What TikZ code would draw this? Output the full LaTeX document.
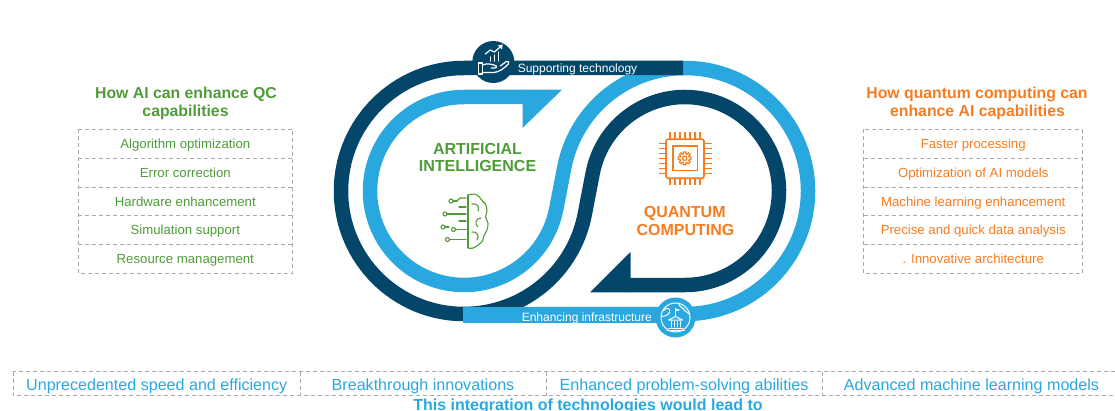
\documentclass[tikz,border=0pt]{standalone}
\usepackage{fontspec}
\setmainfont{Liberation Sans}
\definecolor{navy}{RGB}{3,70,106}
\definecolor{lblue}{RGB}{41,168,224}
\definecolor{aigreen}{RGB}{78,155,55}
\definecolor{qcorange}{RGB}{245,124,32}
\definecolor{dgray}{RGB}{168,168,168}
\begin{document}
\begin{tikzpicture}[x=1pt,y=1pt,
  band/.style={line width=14.5pt},
  dashline/.style={draw=dgray, line width=0.9pt, dash pattern=on 4pt off 3pt},
  leftitem/.style={minimum width=214pt, minimum height=28.8pt, inner sep=0pt, text height=9.45pt, text depth=0pt, text=aigreen, font=\fontsize{13.2}{15}\selectfont},
  rightitem/.style={leftitem, minimum width=218.3pt, text=qcorange},
  ttl/.style={anchor=base, font=\fontsize{15.8}{18}\selectfont\bfseries},
  bigtext/.style={anchor=base, font=\fontsize{16}{18}\selectfont\bfseries},
  bandlabel/.style={anchor=base, text=white, inner sep=0pt, font=\fontsize{12}{14}\selectfont},
  outcome/.style={minimum height=23.5pt, inner sep=0pt, text height=13.5pt, text depth=0pt, text=lblue, font=\fontsize{16.1}{18}\selectfont},
  iconline/.style={line width=1.2pt, line cap=round, line join=round},
]
\useasboundingbox (0,0) rectangle (1115,410);
\begin{scope}[shift={(0,410)}, yscale=-1]
% ---------- light blue path ----------
\draw[band, lblue] (463,314) -- (685,314) arc[start angle=90, end angle=-169.08, radius=123pt] -- (556.30,208.80) arc[start angle=10.92, end angle=270, radius=94pt] -- (523,97);
\fill[lblue] (522.5,89.75) -- (562,89.75) -- (522.5,128) -- cycle;
% ---------- dark navy path ----------
\draw[band, navy] (683,68) -- (464,68) arc[start angle=-90, end angle=-349.08, radius=123pt] -- (592.70,173.20) arc[start angle=190.92, end angle=450, radius=94pt] -- (630,285);
\fill[navy] (630.5,292.25) -- (590,292.25) -- (630.5,252) -- cycle;
% light bottom band on top
\draw[lblue, line width=15.5pt] (463,315) -- (685,315);

% band labels
\node[bandlabel] (suplab) at (577.5,72.8) {Supporting technology};
\node[bandlabel] (enhlab) at (586.8,321.5) {Enhancing infrastructure};

% icon circles
\node[circle, fill=navy, minimum size=42pt, inner sep=0pt] (topicon) at (493.3,62) {};
\node[circle, fill=lblue, minimum size=40pt, inner sep=0pt] (boticon) at (675.5,317.5) {};

% hand + chart icon
\begin{scope}[shift={(493.3,62)}, white, iconline]
  \draw (-3,-1) -- (-3,-5);
  \draw (1,-1) -- (1,-7);
  \draw (5,-1) -- (5,-10);
  \draw (-8,-8) -- (-3,-12) -- (1,-10) -- (8,-16);
  \fill (9.5,-17.5) -- (4.5,-16.5) -- (8.5,-12.5) -- cycle;
  \draw (-15,1) rectangle (-11,12);
  \draw (-11,3) .. controls (-6,1) and (-1,2) .. (3,4) .. controls (4.5,5) and (3,6.5) .. (-2,6);
  \draw (-11,10.5) -- (0,10.5) .. controls (6,10.5) and (11,6) .. (15,2) .. controls (16.5,0.5) and (15,-1.5) .. (13,-0.5) -- (7,4);
\end{scope}

% globe + building icon
\begin{scope}[shift={(675.5,317.5)}, white, line width=1pt, line cap=round, line join=round]
  \draw (0,0) circle (14.5);
  \draw (-12,-7) .. controls (-8,-11) and (-5,-9) .. (-6,-5) .. controls (-8,-2) and (-11,-1) .. (-13.5,-1);
  \draw (3,-14) .. controls (4,-10) and (8,-10) .. (9,-7) .. controls (11,-6) and (13,-4) .. (14,-3);
  \draw (-7,2.5) -- (0,-1) -- (7,2.5) -- cycle;
  \foreach \cx in {-4.5,-1.5,1.5,4.5} { \draw (\cx,4) -- (\cx,9.5); }
  \draw (-7,10.5) -- (7,10.5);
  \draw (-8.5,12.5) -- (8.5,12.5);
  \draw (0,-1) -- (0,-9);
  \fill (0,-9) -- (5,-7.5) -- (0,-6) -- cycle;
\end{scope}

% brain icon
\begin{scope}[aigreen, line width=1.1pt, line cap=round, line join=round]
  \draw (468,195) -- (468,248);
  \draw plot[smooth, tension=0.6] coordinates {(468,195) (474,194) (479,196.5) (482,200.5) (485.5,204) (487,211) (485.5,217) (488,223) (487,230) (484,235.5) (482.5,241) (477.5,245.5) (472.5,248.2) (468,248)};
  \draw (472,204) .. controls (477,203) and (480,207) .. (478,211);
  \draw (481,218) .. controls (476,218) and (474,224) .. (478,227);
  \draw (472,232) .. controls (476,231) and (480,235) .. (477,240);
  \foreach \cx/\cy/\ex in {451/201/457, 445/214/466, 443/227/449, 453.5/229.5/466, 447.5/239.5/466} {
    \draw (\cx,\cy) circle (2);
    \draw ({\cx+2},\cy) -- (\ex,\cy);
  }
  \draw (457,201) -- (460,198) -- (466,198);
  \draw (459,207) -- (466,207);
  \draw (459,221) -- (466,221);
\end{scope}

% chip icon
\begin{scope}[qcorange, line width=1.6pt]
  \draw[rounded corners=2pt] (666,139.3) rectangle (704,178.3);
  \draw (672.7,146) rectangle (697.3,170.7);
  \foreach \p in {670,675,...,700} { \draw[line width=1.4pt] (\p,132.5) -- (\p,139.3); \draw[line width=1.4pt] (\p,178.3) -- (\p,185.5); }
  \foreach \p in {143.8,148.8,...,173.8} { \draw[line width=1.4pt] (658.5,\p) -- (666,\p); \draw[line width=1.4pt] (704,\p) -- (711.5,\p); }
  \draw[line width=1.2pt, shift={(684.7,158.3)}] (-11:6.5) \foreach \a in {0,45,...,315} { -- ({\a-11}:6.5) -- ({\a+11}:6.5) -- ({\a+16}:4.6) -- ({\a+29}:4.6) } -- cycle;
  \draw[line width=1.2pt] (684.7,158.3) circle (2.2);
\end{scope}

% centre texts
\node[bigtext, text=aigreen] (ai1) at (477.5,154.3) {ARTIFICIAL};
\node[bigtext, text=aigreen] (ai2) at (477.5,171.7) {INTELLIGENCE};
\node[bigtext, text=qcorange] (qc1) at (684.7,217.3) {QUANTUM};
\node[bigtext, text=qcorange] (qc2) at (685.5,235) {COMPUTING};

% left list
\node[ttl, text=aigreen] (ltitle1) at (186,98.3) {How AI can enhance QC};
\node[ttl, text=aigreen] (ltitle2) at (185.5,116.7) {capabilities};
\node[leftitem] (l1) at (185.3,143.7) {Algorithm optimization};
\node[leftitem] (l2) at (185.3,172.5) {Error correction};
\node[leftitem] (l3) at (185.3,201.3) {Hardware enhancement};
\node[leftitem] (l4) at (185.3,230.1) {Simulation support};
\node[leftitem] (l5) at (185.3,258.9) {Resource management};
\draw[dashline] (l1.north west) rectangle (l5.south east);
\foreach \i in {1,2,3,4} { \draw[dashline] (l\i.south west) -- (l\i.south east); }

% right list
\node[ttl, text=qcorange] (rtitle1) at (977,98.3) {How quantum computing can};
\node[ttl, text=qcorange] (rtitle2) at (977.5,116.7) {enhance AI capabilities};
\node[rightitem] (r1) at (973.2,143.7) {Faster processing};
\node[rightitem] (r2) at (973.2,172.5) {Optimization of AI models};
\node[rightitem] (r3) at (973.2,201.3) {Machine learning enhancement};
\node[rightitem] (r4) at (973.2,230.1) {Precise and quick data analysis};
\node[rightitem] (r5) at (973.2,258.9) {. Innovative architecture};
\draw[dashline] (r1.north west) rectangle (r5.south east);
\foreach \i in {1,2,3,4} { \draw[dashline] (r\i.south west) -- (r\i.south east); }

% outcomes row
\node[outcome, minimum width=286.5pt] (o1) at (156.75,383.75) {Unprecedented speed and efficiency};
\node[outcome, minimum width=246pt] (o2) at (423,383.75) {Breakthrough innovations};
\node[outcome, minimum width=276pt] (o3) at (684,383.75) {Enhanced problem-solving abilities};
\node[outcome, minimum width=299pt] (o4) at (971.5,383.75) {Advanced machine learning models};
\draw[dashline] (o1.north west) rectangle (o4.south east);
\foreach \i in {1,2,3} { \draw[dashline] (o\i.north east) -- (o\i.south east); }
\node[anchor=base, text=lblue, font=\fontsize{16}{18}\selectfont\bfseries] (concl) at (588,410.5) {This integration of technologies would lead to};
\end{scope}
\end{tikzpicture}
\end{document}
